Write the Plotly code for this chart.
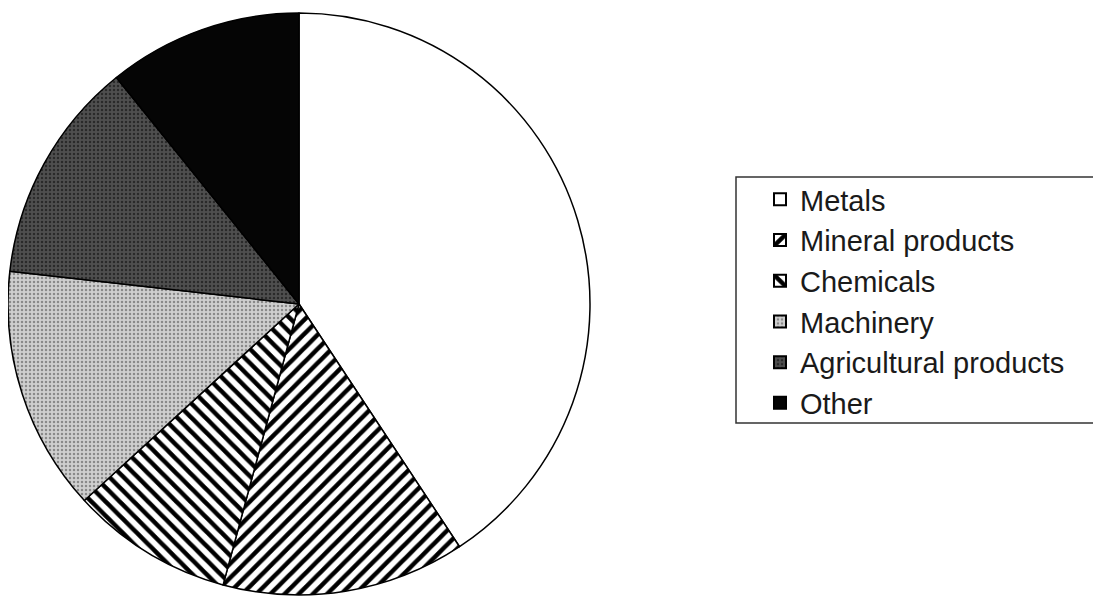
import plotly.graph_objects as go

categories = ["Metals", "Mineral products", "Chemicals", "Machinery", "Agricultural products", "Other"]
values = [40.7, 13.5, 9.0, 13.6, 12.4, 10.8]

colors = ["#ffffff", "#ffffff", "#ffffff", "#cfcfcf", "#4f4f4f", "#050505"]
shapes = ["", "/", "\\", ".", ".", ""]
fgcolors = ["#000000", "#000000", "#000000", "#8a8a8a", "#2a2a2a", "#000000"]

W, H = 1101, 598
OFF = 8  # page body margin offset
cx, cy, r = 291, 296, 291

fig = go.Figure(go.Pie(
    labels=categories,
    values=values,
    sort=False,
    direction="clockwise",
    rotation=0,
    textinfo="none",
    hoverinfo="label+percent",
    marker=dict(
        colors=colors,
        line=dict(color="#000000", width=1.5),
        pattern=dict(shape=shapes, fgcolor=fgcolors, bgcolor=colors,
                     size=[10, 10, 10, 4, 4, 10], solidity=[0.45, 0.45, 0.45, 0.3, 0.3, 0.45],
                     fillmode="replace"),
    ),
    domain=dict(x=[(cx - r) / W, (cx + r) / W], y=[1 - (cy + r) / H, 1 - (cy - r) / H]),
))

# legend frame
fig.add_shape(type="rect", xref="paper", yref="paper",
              x0=(736 - OFF) / W, x1=(1098 - OFF) / W, y0=1 - (423 - OFF) / H, y1=1 - (177 - OFF) / H,
              line=dict(color="#333333", width=1.5), fillcolor="rgba(0,0,0,0)")

fig.update_layout(
    width=W, height=H,
    margin=dict(l=0, r=0, t=0, b=0),
    paper_bgcolor="#ffffff",
    plot_bgcolor="#ffffff",
    showlegend=True,
    legend=dict(
        x=(760 - OFF) / W, y=1 - (174 - OFF) / H, xanchor="left", yanchor="top",
        bgcolor="rgba(0,0,0,0)",
        borderwidth=0,
        font=dict(family="Liberation Sans", size=29, color="#1a1a1a"),
        itemsizing="constant",
        tracegroupgap=0,
    ),
)

fig.write_html("out.html")
